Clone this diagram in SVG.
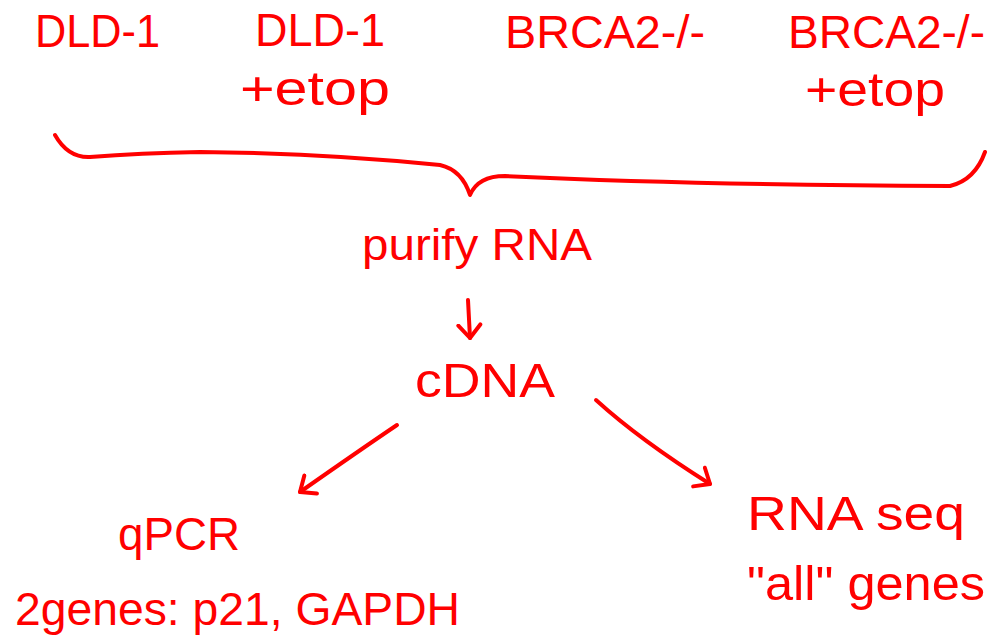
<svg xmlns="http://www.w3.org/2000/svg" width="996" height="641" viewBox="0 0 996 641">
<style>
.t{font-family:"Liberation Sans","DejaVu Sans",sans-serif;fill:#ff0000;font-size:46px}
.c{fill:none;stroke:#ff0000;stroke-width:4;stroke-linecap:round;stroke-linejoin:round}
</style>
<defs>
<marker id="ah" markerWidth="30" markerHeight="30" viewBox="-15 -15 30 30" refX="0" refY="0" orient="auto" markerUnits="userSpaceOnUse">
<path d="M-13,-11 L0,0 L-13,11" fill="none" stroke="#ff0000" stroke-width="4" stroke-linecap="round" stroke-linejoin="round"/>
</marker>
</defs>
<rect width="996" height="641" fill="#ffffff"/>
<g id="dld1"><text class="t" x="35" y="47" textLength="125" lengthAdjust="spacingAndGlyphs">DLD-1</text></g>
<g id="dld1-etop"><text class="t" x="255" y="46" textLength="130" lengthAdjust="spacingAndGlyphs">DLD-1</text><text class="t" x="240" y="105" style="font-size:48px" textLength="150" lengthAdjust="spacingAndGlyphs">+etop</text></g>
<g id="brca2"><text class="t" x="505" y="48" textLength="200" lengthAdjust="spacingAndGlyphs">BRCA2-/-</text></g>
<g id="brca2-etop"><text class="t" x="788" y="48" textLength="197" lengthAdjust="spacingAndGlyphs">BRCA2-/-</text><text class="t" x="805" y="106" style="font-size:48px" textLength="140" lengthAdjust="spacingAndGlyphs">+etop</text></g>
<g id="purify"><text class="t" x="362" y="260" style="font-size:44px" textLength="230" lengthAdjust="spacingAndGlyphs">purify RNA</text></g>
<g id="cdna"><text class="t" x="415" y="397" style="font-size:48px" textLength="140" lengthAdjust="spacingAndGlyphs">cDNA</text></g>
<g id="qpcr"><text class="t" x="118" y="550" textLength="122" lengthAdjust="spacingAndGlyphs">qPCR</text><text class="t" x="15" y="625" textLength="445" lengthAdjust="spacingAndGlyphs">2genes: p21, GAPDH</text></g>
<g id="rnaseq"><text class="t" x="747" y="530" style="font-size:48px" textLength="218" lengthAdjust="spacingAndGlyphs">RNA seq</text><text class="t" x="747" y="600" style="font-size:48px" textLength="238" lengthAdjust="spacingAndGlyphs">"all" genes</text></g>
<g id="connectors">
<path class="c" d="M55,135 Q68,158 90,157 Q140,153 200,152 Q320,153 440,165 Q462,170 470,195 Q478,176 505,176 Q700,185 950,186 Q975,180 985,152"/>
<path class="c" d="M468,300 L470,338" marker-end="url(#ah)"/>
<path class="c" d="M397,425 Q360,450 300,492" marker-end="url(#ah)"/>
<path class="c" d="M596,400 Q640,440 710,484" marker-end="url(#ah)"/>
</g>
</svg>
